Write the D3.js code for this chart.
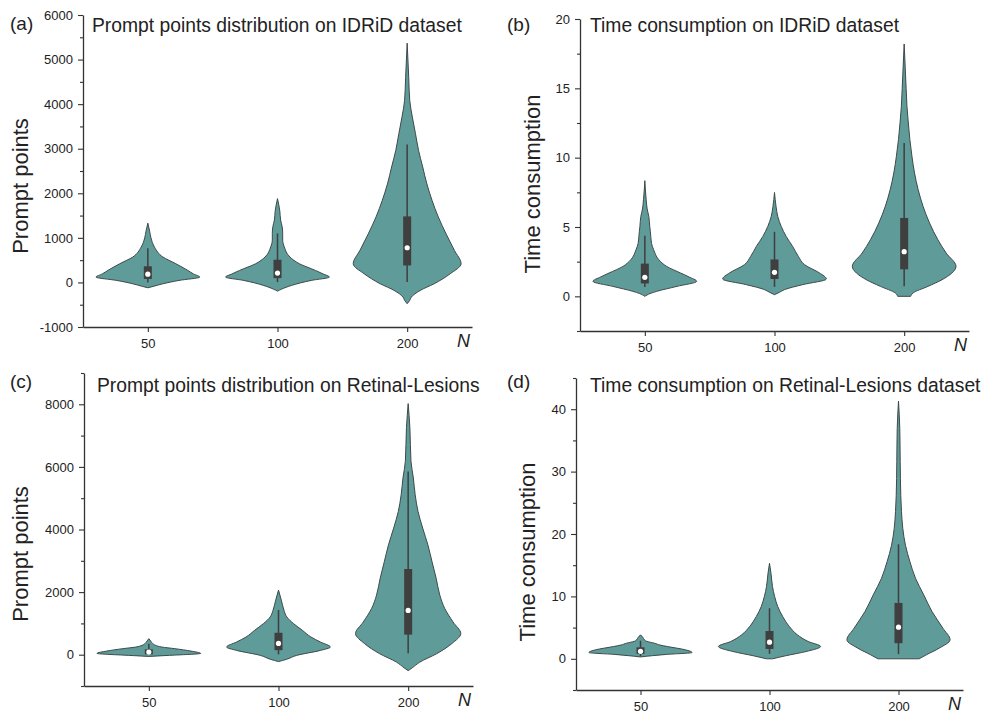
<!DOCTYPE html>
<html>
<head>
<meta charset="utf-8">
<script src="https://cdn.jsdelivr.net/npm/d3@7"></script>
<style>
  body { margin: 0; background: #fff; }
  text { font-family: "Liberation Sans", Arial, sans-serif; fill: #222; }
</style>
</head>
<body>
<div id="viz"></div>
<script>
// categories on every x axis
var categories = ["50", "100", "200"];

// density profiles: [value, relative half-width]
// (a) prompt points, IDRiD
var idridPoints50 = [[-120,0],[-90,0.1],[-30,0.29],[45,0.6],[120,1],[190,0.88],[270,0.77],[420,0.54],[570,0.29],[790,0.13],[1000,0.06],[1150,0.035],[1330,0]];
var idridPoints100 = [[-195,0],[-150,0.08],[-67,0.27],[45,0.65],[120,1],[190,0.88],[270,0.73],[420,0.42],[570,0.24],[800,0.13],[950,0.1],[1100,0.1],[1250,0.09],[1400,0.06],[1600,0.045],[1880,0]];
var idridPoints200 = [[-478,0],[-400,0.05],[-330,0.08],[-180,0.25],[-30,0.52],[195,0.83],[420,1.04],[720,0.91],[1090,0.75],[1470,0.6],[1840,0.48],[2210,0.38],[2590,0.3],[2960,0.22],[3340,0.16],[3710,0.1],[4080,0.05],[4600,0.03],[5369,0]];
// (b) time, IDRiD
var idridTime50 = [[0,0],[0.2,0.1],[0.36,0.23],[0.72,0.62],[1.08,1],[1.4,0.85],[1.68,0.69],[2.16,0.42],[2.64,0.27],[3.36,0.17],[3.8,0.13],[4.32,0.115],[4.7,0.105],[5.04,0.095],[5.76,0.077],[6.3,0.045],[7,0.025],[8.34,0]];
var idridTime100 = [[0.12,0],[0.3,0.1],[0.48,0.19],[0.84,0.54],[1.25,1],[1.68,0.87],[2.28,0.58],[2.88,0.46],[3.6,0.35],[4.32,0.225],[5.04,0.13],[5.76,0.063],[6.48,0.03],[7.49,0]];
var idridTime200 = [[0,0.125],[0.24,0.17],[0.72,0.46],[1.2,0.73],[1.68,0.92],[2.16,1],[3.12,0.81],[4.08,0.65],[5.28,0.49],[6.48,0.365],[7.69,0.27],[8.89,0.2],[10.1,0.15],[11.3,0.11],[12.5,0.08],[13.7,0.054],[15,0.038],[16.1,0.025],[18.2,0]];
// (c) prompt points, Retinal-Lesions
var lesionPoints50 = [[-55,0],[-30,0.29],[-13,0.5],[42,1],[116,0.81],[193,0.5],[244,0.25],[300,0.13],[353,0.077],[430,0.038],[513,0]];
var lesionPoints100 = [[-220,0],[-150,0.15],[-22,0.35],[138,0.81],[244,1],[404,0.81],[565,0.625],[780,0.46],[993,0.29],[1207,0.16],[1422,0.105],[1743,0.054],[2064,0]];
var lesionPoints200 = [[-510,0],[-420,0.077],[-237,0.225],[32,0.55],[353,0.84],[674,1.015],[1046,0.865],[1476,0.705],[1903,0.61],[2439,0.54],[2972,0.46],[3508,0.38],[4044,0.28],[4576,0.19],[5112,0.135],[5648,0.1],[6182,0.054],[7253,0.033],[8023,0]];
// (d) time, Retinal-Lesions
var lesionTime50 = [[0.3,0],[0.5,0.23],[0.7,0.5],[1.0,1],[1.44,0.87],[1.97,0.52],[2.2,0.38],[2.5,0.27],[2.8,0.12],[3.04,0.077],[3.4,0.048],[3.84,0]];
var lesionTime100 = [[0,0.058],[0.48,0.31],[1.17,0.71],[1.97,0.99],[2.77,0.75],[3.84,0.54],[5.17,0.385],[6.77,0.256],[8.37,0.16],[9.97,0.1],[11.57,0.058],[13.7,0.029],[15.3,0]];
var lesionTime200 = [[0,0.4],[0.64,0.54],[1.71,0.79],[3.04,1],[4.91,0.86],[7.57,0.65],[10.24,0.49],[12.9,0.33],[15.6,0.22],[18.2,0.135],[20.9,0.083],[23.6,0.058],[26.2,0.044],[31.6,0.033],[36.9,0.025],[41.3,0]];

// box stats: [whisker low, q1, median, q3, whisker high] per category
var idridPointsBox = [[0,78,185,362,767],[7,97,209,509,1100],[7,381,778,1481,3096]];
var idridTimeBox = [[0.68,0.93,1.37,2.36,4.37],[0.68,1.25,1.73,2.66,4.65],[0.72,1.95,3.22,5.65,11.05]];
var lesionPointsBox = [[5,10,83,170,353],[10,145,360,700,1430],[50,642,1415,2738,5850]];
var lesionTimeBox = [[0.4,0.8,1.2,1.84,2.9],[0.8,1.58,2.67,4.45,8.1],[0.75,2.5,5.07,8.95,18.35]];

// tick values
var idridPointsTicks = [-1000,0,1000,2000,3000,4000,5000,6000];
var idridPointsMinor = [-500,500,1500,2500,3500,4500,5500];
var idridTimeTicks = [0,5,10,15,20];
var idridTimeMinor = [-2.5,2.5,7.5,12.5,17.5];
var lesionPointsTicks = [0,2000,4000,6000,8000];
var lesionPointsMinor = [-1000,1000,3000,5000,7000,9000];
var lesionTimeTicks = [0,10,20,30,40];
var lesionTimeMinor = [-5,5,15,25,35,45];

var panels = [
  { tag: "(a)", title: "Prompt points distribution on IDRiD dataset", ylabel: "Prompt points",
    left: 83, top: 15, width: 389, height: 312, domain: [-1000, 6000],
    ticks: idridPointsTicks, minor: idridPointsMinor,
    violins: [idridPoints50, idridPoints100, idridPoints200], boxes: idridPointsBox,
    tagPos: [10, 30], titlePos: [92, 32], ylabelPos: [28, 186] },
  { tag: "(b)", title: "Time consumption on IDRiD dataset", ylabel: "Time consumption",
    left: 580, top: 19, width: 389, height: 312, domain: [-2.5, 20],
    ticks: idridTimeTicks, minor: idridTimeMinor,
    violins: [idridTime50, idridTime100, idridTime200], boxes: idridTimeBox,
    tagPos: [507, 31], titlePos: [590, 32], ylabelPos: [540, 184] },
  { tag: "(c)", title: "Prompt points distribution on Retinal-Lesions", ylabel: "Prompt points",
    left: 84, top: 373, width: 389, height: 313, domain: [-1000, 9000],
    ticks: lesionPointsTicks, minor: lesionPointsMinor,
    violins: [lesionPoints50, lesionPoints100, lesionPoints200], boxes: lesionPointsBox,
    tagPos: [10, 388], titlePos: [97, 392], ylabelPos: [28, 554] },
  { tag: "(d)", title: "Time consumption on Retinal-Lesions dataset", ylabel: "Time consumption",
    left: 576, top: 378, width: 387, height: 312, domain: [-5, 45],
    ticks: lesionTimeTicks, minor: lesionTimeMinor,
    violins: [lesionTime50, lesionTime100, lesionTime200], boxes: lesionTimeBox,
    tagPos: [507, 388], titlePos: [590, 392], ylabelPos: [535, 552] }
];

var svg = d3.select("#viz").append("svg")
  .attr("width", 985)
  .attr("height", 713);

panels.forEach(function (p) {
  var g = svg.append("g").attr("transform", "translate(" + p.left + "," + p.top + ")");

  var x = d3.scalePoint().domain(categories).range([0, p.width]).padding(0.5);
  var y = d3.scaleLinear().domain(p.domain).range([p.height, 0]);
  var w = d3.scaleLinear().domain([0, 1]).range([0, 0.4 * x.step()]);

  // violins
  p.violins.forEach(function (dens, i) {
    var cx = x(categories[i]);
    var area = d3.area()
      .curve(d3.curveMonotoneY)
      .y(function (d) { return y(d[0]); })
      .x0(function (d) { return cx - w(d[1]); })
      .x1(function (d) { return cx + w(d[1]); });
    g.append("path")
      .datum(dens)
      .attr("d", area)
      .attr("fill", "#5f9b98")
      .attr("stroke", "#3d4a4a")
      .attr("stroke-width", 1);

    var b = p.boxes[i];
    g.append("line")
      .attr("x1", cx).attr("x2", cx)
      .attr("y1", y(b[0])).attr("y2", y(b[4]))
      .attr("stroke", "#3f3f3f")
      .attr("stroke-width", 1.5);
    g.append("rect")
      .attr("x", cx - 4).attr("width", 8)
      .attr("y", y(b[3])).attr("height", y(b[1]) - y(b[3]))
      .attr("fill", "#3f3f3f");
    g.append("circle")
      .attr("cx", cx).attr("cy", y(b[2]))
      .attr("r", 2.6)
      .attr("fill", "#fff");
  });

  // y axis, major + minor ticks
  g.append("g")
    .call(d3.axisLeft(y).tickValues(p.ticks).tickSize(5).tickSizeOuter(0).tickPadding(5)
      .tickFormat(function (d) { return String(d); }));
  var yMinor = g.append("g")
    .call(d3.axisLeft(y).tickValues(p.minor).tickSize(3).tickFormat(""));
  yMinor.select(".domain").remove();

  // x axis
  g.append("g")
    .attr("transform", "translate(0," + p.height + ")")
    .call(d3.axisBottom(x).tickSize(5).tickSizeOuter(0).tickPadding(7));

  g.selectAll(".domain").attr("stroke", "#333").attr("stroke-width", 1.3);
  g.selectAll(".tick line").attr("stroke", "#333").attr("stroke-width", 1.1);
  g.selectAll(".tick text").attr("font-size", 13).style("fill", "#222")
    .attr("font-family", "Liberation Sans, Arial, sans-serif");

  svg.append("text")
    .attr("x", p.left + p.width - 15)
    .attr("y", p.top + p.height + 20)
    .attr("font-size", 18)
    .attr("font-style", "italic")
    .text("N");

  svg.append("text")
    .attr("x", p.tagPos[0]).attr("y", p.tagPos[1])
    .attr("font-size", 19)
    .text(p.tag);

  svg.append("text")
    .attr("x", p.titlePos[0]).attr("y", p.titlePos[1])
    .attr("font-size", 19.3)
    .text(p.title);

  svg.append("text")
    .attr("transform", "translate(" + p.ylabelPos[0] + "," + p.ylabelPos[1] + ") rotate(-90)")
    .attr("text-anchor", "middle")
    .attr("font-size", 22)
    .text(p.ylabel);
});
</script>
</body>
</html>
